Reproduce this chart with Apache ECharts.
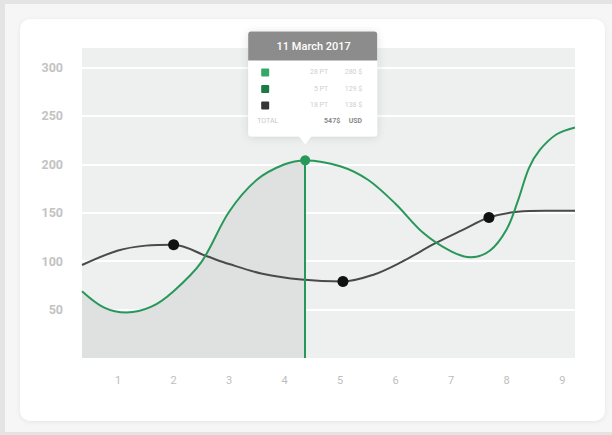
<!DOCTYPE html>
<html>
<head>
<meta charset="utf-8">
<script src="https://cdn.jsdelivr.net/npm/echarts@6/dist/echarts.min.js"></script>
<style>
html,body{margin:0;padding:0;width:612px;height:435px;overflow:hidden;background:#e3e4e3;}
#frame{position:absolute;left:5px;top:4px;right:0;bottom:3px;background:#f6f6f6;}
#card{position:absolute;left:20px;top:19px;width:585px;height:402px;background:#fff;border-radius:10px;box-shadow:0 1px 5px rgba(0,0,0,0.07);}
#chart{position:absolute;left:0;top:0;width:612px;height:435px;}
</style>
</head>
<body>
<div id="frame"></div>
<div id="card"></div>
<div id="chart"></div>
<script>
// ---- data ----
const xLabels = [1, 2, 3, 4, 5, 6, 7, 8, 9];
const xRange = [0.35, 9.23];
const yRange = [0, 320];
const yStep = 50;

const greenCurve = [[0.35, 69], [0.75, 52], [1.15, 47], [1.6, 53], [2, 69], [2.5, 99], [3, 151], [3.5, 184], [4, 200],
  [5, 198], [5.5, 184], [6, 159], [6.5, 129], [7, 110], [7.35, 104], [7.7, 111], [8, 133], [8.2, 162], [8.4, 196],
  [8.6, 215], [8.9, 231], [9.23, 238]];
const greenDots = [[4.37, 204]];

const grayCurve = [[0.35, 96], [1, 111], [1.5, 116], [2.6, 105], [3, 97], [3.6, 87], [4.3, 81],
  [5.6, 86], [6.1, 99], [6.7, 118], [7.2, 132], [8.2, 151], [8.7, 152], [9.23, 152]];
const grayDots = [[2, 117], [5.05, 79], [7.68, 145]];

const tipDate = '11 March 2017';
const tipRows = [['28 PT', '280 $'], ['5 PT', '129 $'], ['18 PT', '138 $']];
const tipTotalLabel = 'TOTAL';
const tipTotal = ['547$', 'USD'];

// ---- styles ----
const GREEN = '#27985a';
const GRAY = '#4a4a4a';
const SMOOTH = 0.34;
const tipColors = ['#35a868', '#1c7a44', '#353535'];

function merge(curve, dots) {
  const all = curve.map(p => ({ p, dot: false })).concat(dots.map(p => ({ p, dot: true })));
  all.sort((a, b) => a.p[0] - b.p[0]);
  return all;
}
function toItems(list, color, size) {
  return list.map(o => o.dot
    ? { value: o.p, symbol: 'circle', symbolSize: size, itemStyle: { color: color } }
    : { value: o.p, symbol: 'none' });
}
const greenAll = merge(greenCurve, greenDots);
const grayAll = merge(grayCurve, grayDots);
const cutX = greenDots[0][0];
const firstX = greenAll[0].p[0], lastX = greenAll[greenAll.length - 1].p[0];
const frac = (cutX - firstX) / (lastX - firstX);

const chart = echarts.init(document.getElementById('chart'), null, { renderer: 'svg' });
const option = {
  animation: false,
  backgroundColor: 'transparent',
  textStyle: { fontFamily: 'Roboto' },
  grid: { left: 82, right: 37, top: 48, bottom: 77, show: true, backgroundColor: '#eeefef', borderWidth: 0 },
  xAxis: {
    type: 'value', min: xRange[0], max: xRange[1],
    axisLine: { show: false }, axisTick: { show: false }, splitLine: { show: false },
    axisLabel: { customValues: xLabels, color: '#bdbdbd', fontSize: 11, margin: 17, fontFamily: 'Roboto' }
  },
  yAxis: {
    type: 'value', min: yRange[0], max: yRange[1], interval: yStep,
    axisLine: { show: false }, axisTick: { show: false },
    axisLabel: { showMinLabel: false, showMaxLabel: false, color: '#c3c3c3', fontSize: 12.5, fontWeight: 'bold', margin: 19, fontFamily: 'Roboto' },
    splitLine: { show: true, showMinLine: false, showMaxLine: false, lineStyle: { color: '#ffffff', width: 2 } }
  },
  series: [
    {
      type: 'line', smooth: SMOOTH, silent: true,
      data: greenAll.map(o => o.p), symbol: 'none',
      lineStyle: { width: 0, opacity: 0 },
      areaStyle: {
        opacity: 1,
        color: new echarts.graphic.LinearGradient(0, 0, 1, 0, [
          { offset: 0, color: '#dfe0e0' }, { offset: frac, color: '#dfe0e0' },
          { offset: frac, color: 'rgba(223,224,224,0)' }, { offset: 1, color: 'rgba(223,224,224,0)' }
        ])
      },
      z: 1
    },
    {
      type: 'line', smooth: SMOOTH, silent: true,
      data: toItems(grayAll, '#111111', 11), showSymbol: true, showAllSymbol: true,
      lineStyle: { color: GRAY, width: 2 }, itemStyle: { color: '#111111' },
      z: 3
    },
    {
      type: 'line', smooth: SMOOTH, silent: true,
      data: toItems(greenAll, GREEN, 10), showSymbol: true, showAllSymbol: true,
      lineStyle: { color: GREEN, width: 2 }, itemStyle: { color: GREEN },
      markLine: {
        silent: true, symbol: 'none', label: { show: false },
        lineStyle: { color: GREEN, width: 2, type: 'solid' },
        data: [[{ coord: [cutX, yRange[0]] }, { coord: greenDots[0] }]]
      },
      z: 4
    }
  ]
};
chart.setOption(option);

// tooltip drawn as graphic, anchored to the highlighted point
const anchor = chart.convertToPixel({ xAxisIndex: 0, yAxisIndex: 0 }, greenDots[0]);
const TW = 129, TH = 105, THH = 29;
const tipLeft = anchor[0] - 57, tipTop = anchor[1] - 129;
const tipChildren = [
  { type: 'rect', shape: { x: 0, y: 0, width: TW, height: TH, r: 3 }, style: { fill: '#ffffff', shadowBlur: 8, shadowColor: 'rgba(0,0,0,0.12)', shadowOffsetY: 1 } },
  { type: 'polygon', shape: { points: [[50, TH - 1], [64, TH - 1], [57, TH + 8]] }, style: { fill: '#ffffff' } },
  { type: 'rect', shape: { x: 0, y: 0, width: TW, height: THH, r: [3, 3, 0, 0] }, style: { fill: '#8c8c8c' } },
  { type: 'text', x: TW / 2 + 1, y: THH / 2 + 1, style: { text: tipDate, fill: '#ffffff', font: '500 11px Roboto', align: 'center', verticalAlign: 'middle' } }
];
tipRows.forEach((r, i) => {
  const cy = 41 + i * 16.5;
  tipChildren.push({ type: 'rect', shape: { x: 13, y: cy - 4, width: 8, height: 8, r: 1 }, style: { fill: tipColors[i] } });
  tipChildren.push({ type: 'text', x: 80, y: cy, style: { text: r[0], fill: '#cfcfcf', font: '7px Roboto', align: 'right', verticalAlign: 'middle' } });
  tipChildren.push({ type: 'text', x: 114, y: cy, style: { text: r[1], fill: '#cfcfcf', font: '7px Roboto', align: 'right', verticalAlign: 'middle' } });
});
tipChildren.push({ type: 'text', x: 9, y: 90, style: { text: tipTotalLabel, fill: '#c8c8c8', font: '7px Roboto', align: 'left', verticalAlign: 'middle' } });
tipChildren.push({ type: 'text', x: 92, y: 90, style: { text: tipTotal[0], fill: '#8a8a8a', font: 'bold 7px Roboto', align: 'right', verticalAlign: 'middle' } });
tipChildren.push({ type: 'text', x: 114, y: 90, style: { text: tipTotal[1], fill: '#8a8a8a', font: 'bold 7px Roboto', align: 'right', verticalAlign: 'middle' } });

chart.setOption({
  graphic: [{ type: 'group', x: tipLeft, y: tipTop, z: 100, silent: true, children: tipChildren }]
});
</script>
</body>
</html>
